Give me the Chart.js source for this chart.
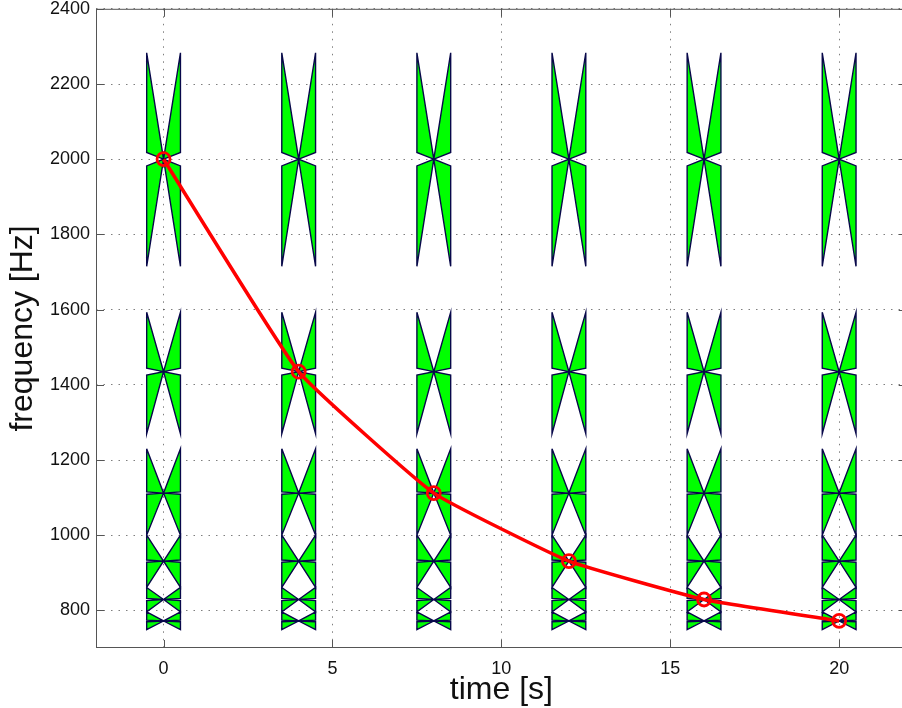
<!DOCTYPE html>
<html>
<head>
<meta charset="utf-8">
<script src="https://cdn.jsdelivr.net/npm/chart.js@4.4.0/dist/chart.umd.min.js"></script>
<style>
  html, body { margin: 0; padding: 0; background: #fff; overflow: hidden; }
  canvas { display: block; position: relative; top: -8px; }
</style>
</head>
<body>
<canvas id="freqChart" width="916" height="716"></canvas>
<script>
// time of each analysis frame [s]
const times = [0, 4, 8, 12, 16, 20];
// red curve: tracked frequency at each time [Hz]
const peakFreqs = [2000, 1435, 1112, 931, 829, 772];
// bands drawn as bow-ties in every frame [Hz]
const bandCenters = [2000, 1435, 1112, 931, 829, 772];
const bandTops = [2283, 1593, 1230, 1000, 861, 796];
const bandBottoms = [1715, 1270, 1000, 861, 796, 749];
const bandNotch = [18, 9, 3, 3, 3, 2];
const bandWidth = 1; // in seconds
// axis ticks
const xTicks = [0, 5, 10, 15, 20];
const yTicks = [800, 1000, 1200, 1400, 1600, 1800, 2000, 2200, 2400];

const FONT = '"Liberation Sans", Arial, sans-serif';

function bowtie(t, k) {
  const c = bandCenters[k], top = bandTops[k], bot = bandBottoms[k];
  const e = bandNotch[k], h = bandWidth / 2;
  return [
    {x: t - h, y: top}, {x: t - h, y: c + e}, {x: t, y: c},
    {x: t - h, y: c - e}, {x: t - h, y: bot}, {x: t, y: c},
    {x: t + h, y: bot}, {x: t + h, y: c - e}, {x: t, y: c},
    {x: t + h, y: c + e}, {x: t + h, y: top}, {x: t, y: c},
    {x: t - h, y: top}
  ];
}

const datasets = [{
  data: times.map((t, i) => ({x: t, y: peakFreqs[i]})),
  showLine: true,
  borderColor: '#ff0000',
  borderWidth: 3.5,
  tension: 0.12,
  pointRadius: 6.5,
  pointBorderWidth: 2.8,
  pointBorderColor: '#ff0000',
  pointBackgroundColor: 'rgba(0,0,0,0)',
  fill: false
}];

times.forEach(t => {
  bandCenters.forEach((c, k) => {
    datasets.push({
      data: bowtie(t, k),
      showLine: true,
      tension: 0,
      borderColor: '#08084a',
      borderWidth: 1.4,
      backgroundColor: '#00ff00',
      fill: 'shape',
      pointRadius: 0
    });
  });
});

const framePlugin = {
  id: 'frame',
  afterDraw(chart) {
    const {ctx, chartArea: a, scales: {x, y}} = chart;
    ctx.save();
    ctx.strokeStyle = '#555';
    ctx.lineWidth = 1;
    ctx.strokeRect(a.left + 0.5, a.top + 0.5, a.right - a.left - 1, a.bottom - a.top - 1);
    ctx.beginPath();
    xTicks.forEach(v => {
      const px = Math.round(x.getPixelForValue(v)) + 0.5;
      ctx.moveTo(px, a.bottom); ctx.lineTo(px, a.bottom - 8);
      ctx.moveTo(px, a.top); ctx.lineTo(px, a.top + 8);
    });
    yTicks.forEach(v => {
      const py = Math.round(y.getPixelForValue(v)) + 0.5;
      ctx.moveTo(a.left, py); ctx.lineTo(a.left + 8, py);
      ctx.moveTo(a.right, py); ctx.lineTo(a.right - 8, py);
    });
    ctx.stroke();
    ctx.restore();
  }
};

new Chart(document.getElementById('freqChart'), {
  type: 'scatter',
  data: { datasets: datasets },
  options: {
    responsive: false,
    animation: false,
    events: [],
    layout: { padding: { top: 0, right: 0, left: 0, bottom: 0 } },
    plugins: {
      legend: { display: false },
      tooltip: { enabled: false }
    },
    scales: {
      x: {
        type: 'linear',
        min: -2,
        max: 22,
        afterBuildTicks: s => { s.ticks = xTicks.map(v => ({value: v})); },
        afterFit: s => { s.height = 60; },
        border: { display: false, dash: [1.5, 6] },
        grid: {
          color: 'rgba(0,0,0,0.5)',
          lineWidth: 1,
          drawTicks: false
        },
        ticks: {
          padding: 10,
          color: '#111',
          font: { family: FONT, size: 18 },
          callback: v => String(v)
        },
        title: {
          display: true,
          text: 'time [s]',
          color: '#111',
          font: { family: FONT, size: 32, lineHeight: 1.1 },
          padding: { top: 0, bottom: 0 }
        }
      },
      y: {
        type: 'linear',
        min: 700,
        max: 2400,
        afterBuildTicks: s => { s.ticks = yTicks.map(v => ({value: v})); },
        afterFit: s => { s.width = 96; },
        border: { display: false, dash: [1.5, 6] },
        grid: {
          color: 'rgba(0,0,0,0.5)',
          lineWidth: 1,
          drawTicks: false
        },
        ticks: {
          padding: 6,
          color: '#111',
          font: { family: FONT, size: 18 },
          callback: v => String(v)
        },
        title: {
          display: true,
          text: 'frequency [Hz]',
          color: '#111',
          font: { family: FONT, size: 32, lineHeight: 1.1 },
          padding: { top: 6, bottom: 0 }
        }
      }
    }
  },
  plugins: [framePlugin]
});
</script>
</body>
</html>
